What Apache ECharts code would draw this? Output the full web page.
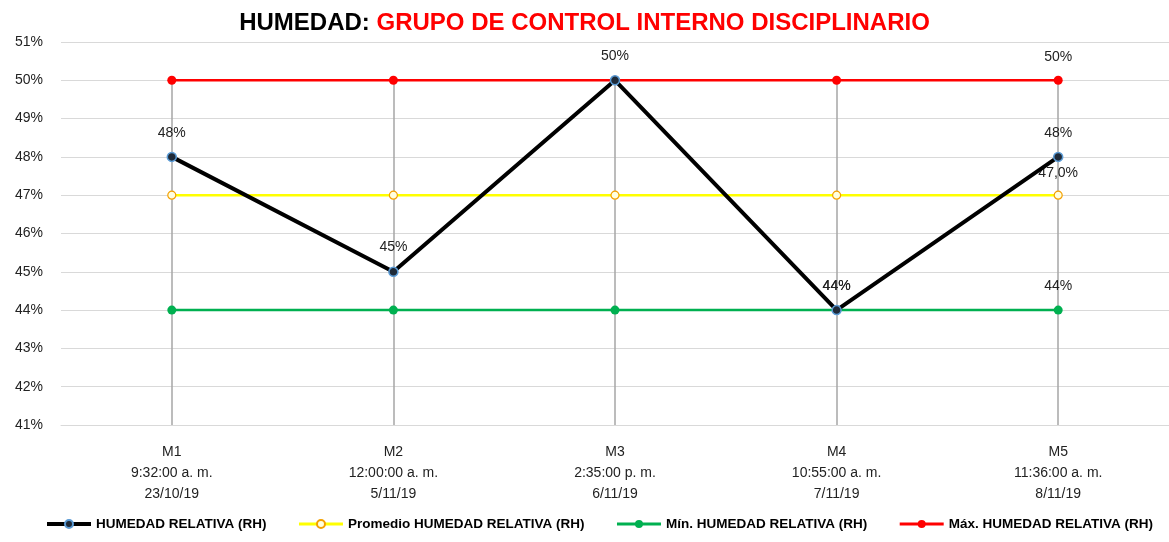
<!DOCTYPE html>
<html>
<head>
<meta charset="utf-8">
<script src="https://cdn.jsdelivr.net/npm/echarts@6/dist/echarts.min.js"></script>
<style>
  html, body { margin: 0; padding: 0; background: #fff; }
  #chart { width: 1169px; height: 542px; }
</style>
</head>
<body>
<div id="chart"></div>
<script>
// Measurement points: sample id, time and date
const categories = [
  'M1\n9:32:00 a. m.\n23/10/19',
  'M2\n12:00:00 a. m.\n5/11/19',
  'M3\n2:35:00 p. m.\n6/11/19',
  'M4\n10:55:00 a. m.\n7/11/19',
  'M5\n11:36:00 a. m.\n8/11/19'
];
// Relative humidity in percent
const humedad = [48, 45, 50, 44, 48];
const promedio = [47, 47, 47, 47, 47];
const minimo = [44, 44, 44, 44, 44];
const maximo = [50, 50, 50, 50, 50];
const yMin = 41, yMax = 51, yStep = 1;

const chart = echarts.init(document.getElementById('chart'));
const lastIdx = categories.length - 1;
const sans = '"Liberation Sans", sans-serif';
const pct = v => v + '%';

// Drop lines from the top series down to the axis
const dropLines = maximo.map((v, i) => [{ coord: [i, v] }, { coord: [i, yMin] }]);

const valueLabel = {
  show: true,
  position: 'top',
  distance: 12,
  fontFamily: sans,
  fontSize: 14,
  color: '#222'
};

chart.setOption({
  animation: false,
  title: {
    text: '{a|HUMEDAD: }{b|GRUPO DE CONTROL INTERNO DISCIPLINARIO}',
    left: 'center',
    top: 6,
    textStyle: {
      rich: {
        a: { fontFamily: sans, fontWeight: 'bold', fontSize: 24, color: '#000' },
        b: { fontFamily: sans, fontWeight: 'bold', fontSize: 24, color: '#ff0000' }
      }
    }
  },
  grid: { left: 61, top: 42, width: 1111, height: 383 },
  legend: {
    bottom: 6,
    left: 40,
    itemGap: 31,
    itemWidth: 44,
    itemHeight: 10,
    textStyle: { fontFamily: sans, fontWeight: 'bold', fontSize: 13.5, color: '#000' },
    data: [
      { name: 'HUMEDAD RELATIVA (RH)', lineStyle: { width: 4 } },
      { name: 'Promedio HUMEDAD RELATIVA (RH)', lineStyle: { width: 3 } },
      { name: 'Mín. HUMEDAD RELATIVA (RH)', lineStyle: { width: 3 } },
      { name: 'Máx. HUMEDAD RELATIVA (RH)', lineStyle: { width: 3 } }
    ]
  },
  xAxis: {
    type: 'category',
    data: categories,
    boundaryGap: true,
    axisLine: { lineStyle: { color: '#d9d9d9', width: 1 } },
    axisTick: { show: false },
    axisLabel: {
      fontFamily: sans,
      fontSize: 14,
      lineHeight: 21,
      color: '#222',
      margin: 17
    },
    splitLine: { show: false }
  },
  yAxis: {
    type: 'value',
    min: yMin,
    max: yMax,
    interval: yStep,
    axisLine: { show: false },
    axisTick: { show: false },
    axisLabel: {
      formatter: pct,
      fontFamily: sans,
      fontSize: 14,
      color: '#222',
      margin: 18
    },
    splitLine: { lineStyle: { color: '#d9d9d9', width: 1 } }
  },
  series: [
    {
      name: 'Máx. HUMEDAD RELATIVA (RH)',
      type: 'line',
      data: maximo,
      z: 3,
      symbol: 'circle',
      symbolSize: 9,
      lineStyle: { color: '#ff0000', width: 2.5 },
      itemStyle: { color: '#ff0000' },
      label: Object.assign({}, valueLabel, {
        formatter: p => p.dataIndex === lastIdx ? pct(p.value) : ''
      }),
      markLine: {
        silent: true,
        symbol: 'none',
        label: { show: false },
        lineStyle: { color: '#a6a6a6', width: 1.5, type: 'solid' },
        data: dropLines,
        z: 1
      }
    },
    {
      name: 'Mín. HUMEDAD RELATIVA (RH)',
      type: 'line',
      data: minimo,
      z: 3,
      symbol: 'circle',
      symbolSize: 9,
      lineStyle: { color: '#00b050', width: 2.5 },
      itemStyle: { color: '#00b050' },
      label: Object.assign({}, valueLabel, {
        formatter: p => (p.dataIndex === lastIdx || p.dataIndex === 3) ? pct(p.value) : ''
      })
    },
    {
      name: 'Promedio HUMEDAD RELATIVA (RH)',
      type: 'line',
      data: promedio,
      z: 3,
      symbol: 'circle',
      symbolSize: 8,
      lineStyle: { color: '#ffff00', width: 2.5 },
      itemStyle: { color: '#ffffe0', borderColor: '#f4a000', borderWidth: 1.2 },
      label: Object.assign({}, valueLabel, {
        distance: 10,
        formatter: p => p.dataIndex === lastIdx ? p.value.toFixed(1).replace('.', ',') + '%' : ''
      })
    },
    {
      name: 'HUMEDAD RELATIVA (RH)',
      type: 'line',
      data: humedad,
      z: 4,
      symbol: 'circle',
      symbolSize: 9,
      lineStyle: { color: '#000', width: 4 },
      itemStyle: { color: '#1f2a38', borderColor: '#5b9bd5', borderWidth: 1.5 },
      label: Object.assign({}, valueLabel, { formatter: p => pct(p.value) })
    }
  ]
});
</script>
</body>
</html>
